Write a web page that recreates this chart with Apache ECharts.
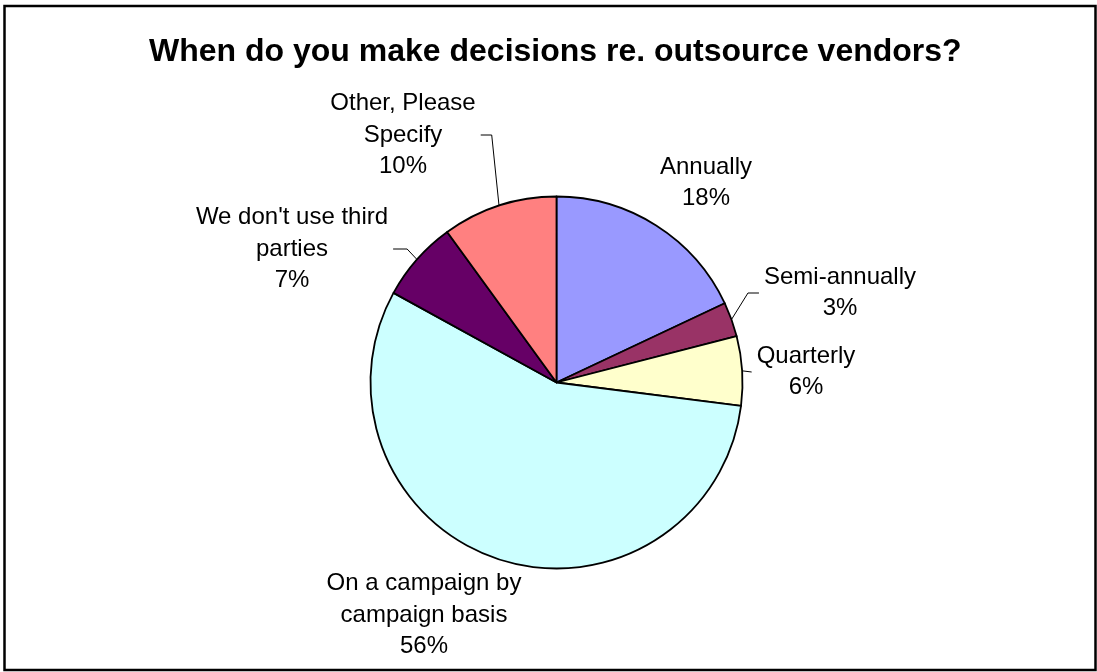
<!DOCTYPE html>
<html>
<head>
<meta charset="utf-8">
<script src="https://cdn.jsdelivr.net/npm/echarts@6/dist/echarts.min.js"></script>
<style>
html,body{margin:0;padding:0;background:#fff;}
#chart{width:1097px;height:672px;}
</style>
</head>
<body>
<div id="chart"></div>
<script>
const titleText = 'When do you make decisions re. outsource vendors?';
const categories = ['Annually', 'Semi-annually', 'Quarterly', 'On a campaign by campaign basis', "We don't use third parties", 'Other, Please Specify'];
const labelTexts = ['Annually', 'Semi-annually', 'Quarterly', 'On a campaign by\ncampaign basis', "We don't use third\nparties", 'Other, Please\nSpecify'];
const values = [18, 3, 6, 56, 7, 10];
const colors = ['#9999FF', '#993366', '#FFFFCC', '#CCFFFF', '#660066', '#FF8080'];

// layout (label centres, leader line settings)
const pieCenter = [556.5, 382.5];
const labelCenters = [[706, 183], [840, 293], [806, 372], [424, 615], [292, 249], [403, 135]];
const hasLeader = [false, true, true, false, true, true];
const elbow = [0, 11, 0, 0, 14, 11];

const chart = echarts.init(document.getElementById('chart'), null, {renderer: 'canvas'});

const option = {
  backgroundColor: '#ffffff',
  animation: false,
  title: {
    text: titleText,
    left: 144,
    top: 31,
    textStyle: {fontFamily: 'Liberation Sans', fontWeight: 'bold', fontSize: 32, color: '#000'}
  },
  graphic: [{
    type: 'rect',
    shape: {x: 4.5, y: 6, width: 1091, height: 664},
    style: {fill: 'none', stroke: '#000', lineWidth: 2.5},
    silent: true
  }],
  series: [{
    type: 'pie',
    center: pieCenter,
    radius: 186,
    startAngle: 90,
    clockwise: true,
    avoidLabelOverlap: false,
    itemStyle: {borderColor: '#000', borderWidth: 1.8},
    label: {
      show: true,
      position: 'outside',
      fontFamily: 'Liberation Sans',
      fontSize: 24,
      lineHeight: 31.5,
      color: '#000',
      align: 'center',
      formatter: function (p) {
        return labelTexts[p.dataIndex] + '\n' + Math.round(p.percent) + '%';
      }
    },
    labelLine: {
      show: true,
      length: 10,
      length2: 10,
      smooth: false,
      lineStyle: {color: '#000', width: 1}
    },
    labelLayout: function (params) {
      const i = params.dataIndex;
      const x = labelCenters[i][0];
      const y = labelCenters[i][1];
      const res = {x: x, y: y, align: 'center', verticalAlign: 'middle'};
      if (hasLeader[i] && params.labelLinePoints) {
        const p0 = params.labelLinePoints[0];
        const w = params.labelRect.width;
        const leftSide = x < pieCenter[0];
        const edgeX = leftSide ? x + w / 2 + 5 : x - w / 2 - 5;
        const midX = leftSide ? edgeX + elbow[i] : edgeX - elbow[i];
        res.labelLinePoints = [[p0[0], p0[1]], [midX, y], [edgeX, y]];
      }
      return res;
    },
    data: categories.map(function (name, i) {
      return {
        name: name,
        value: values[i],
        itemStyle: {color: colors[i]},
        labelLine: {show: hasLeader[i]}
      };
    })
  }]
};
chart.setOption(option);
</script>
</body>
</html>
